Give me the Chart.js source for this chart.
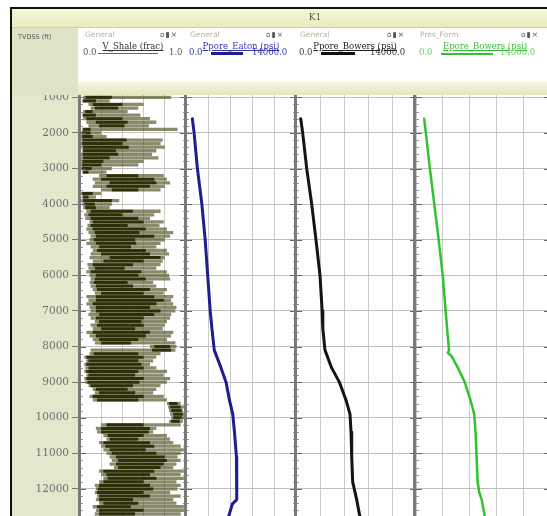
<!DOCTYPE html>
<html><head><meta charset="utf-8">
<script src="https://cdn.jsdelivr.net/npm/chart.js@4/dist/chart.umd.min.js"></script>
<style>
html,body{margin:0;padding:0;}
body{width:547px;height:516px;overflow:hidden;position:relative;background:#fff;font-family:'DejaVu Serif',serif;}
.a{position:absolute;}
canvas{position:absolute;top:92px;z-index:2;}
.sep{position:absolute;top:27px;height:489px;width:3px;background:#7a7a7a;z-index:6;}
.gen{position:absolute;top:30px;font:7.5px 'DejaVu Sans',sans-serif;color:#b9b0a0;z-index:8;white-space:nowrap;}
.ico{position:absolute;top:30px;font:7.5px 'DejaVu Sans',sans-serif;color:#555;z-index:8;white-space:nowrap;letter-spacing:1px;}
.ttl{position:absolute;top:41px;font:8.5px 'DejaVu Serif',serif;text-decoration:underline;z-index:8;white-space:nowrap;text-align:center;}
.sc{position:absolute;top:47px;font:8.5px 'DejaVu Serif',serif;z-index:8;white-space:nowrap;}
.smp{position:absolute;z-index:8;}
</style></head>
<body>
<!-- frame and header -->
<div class="a" style="left:10px;top:7px;width:537px;height:2px;background:#111;z-index:9"></div>
<div class="a" style="left:10px;top:7px;width:2px;height:509px;background:#111;z-index:9"></div>
<div class="a" style="left:12px;top:9px;width:535px;height:18px;background:linear-gradient(#f6f6d6,#e9ebc0);z-index:7;border-bottom:1px solid #cfd0a8"></div>
<div class="a" style="left:300px;top:12px;width:30px;text-align:center;font:9px 'DejaVu Serif',serif;color:#555;z-index:8">K1</div>
<div class="a" style="left:12px;top:28px;width:535px;height:67px;background:#fff;z-index:7"></div>
<div class="a" style="left:12px;top:82px;width:535px;height:13px;background:linear-gradient(#f6f6e2,#e3e7bf);z-index:7"></div>
<div class="a" style="left:12px;top:28px;width:66px;height:67px;background:#dfe4c6;z-index:7"></div>
<div class="a" style="left:18px;top:33px;font:6.5px 'DejaVu Sans',sans-serif;color:#555;z-index:8;white-space:nowrap">TVDSS (ft)</div>
<div class="a" style="left:12px;top:95px;width:66px;height:421px;background:#e3e8cc;z-index:1"></div>

<!-- track separators -->
<div class="sep" style="left:78px"></div>
<div class="sep" style="left:184px"></div>
<div class="sep" style="left:294px"></div>
<div class="sep" style="left:413px"></div>

<!-- track 1 header -->
<div class="gen" style="left:85px">General</div>
<div class="ico" style="left:160px">o▮×</div>
<div class="ttl" style="left:82px;width:102px;color:#333">V_Shale (frac)</div>
<div class="sc" style="left:83px;color:#555">0.0</div>
<div class="smp" style="left:98px;top:53px;width:60px;height:1px;background:#666"></div>
<div class="sc" style="left:169px;color:#555">1.0</div>

<!-- track 2 header -->
<div class="gen" style="left:190px">General</div>
<div class="ico" style="left:266px">o▮×</div>
<div class="ttl" style="left:188px;width:106px;color:#3333aa">Ppore_Eaton (psi)</div>
<div class="sc" style="left:189px;color:#3333aa">0.0</div>
<div class="smp" style="left:211px;top:52px;width:32px;height:3px;background:#1e1e8c"></div>
<div class="sc" style="left:252px;color:#3333aa">14000.0</div>

<!-- track 3 header -->
<div class="gen" style="left:300px">General</div>
<div class="ico" style="left:387px">o▮×</div>
<div class="ttl" style="left:298px;width:114px;color:#222">Ppore_Bowers (psi)</div>
<div class="sc" style="left:299px;color:#333">0.0</div>
<div class="smp" style="left:321px;top:52px;width:34px;height:3px;background:#111"></div>
<div class="sc" style="left:370px;color:#333">14000.0</div>

<!-- track 4 header -->
<div class="gen" style="left:420px">Pres_Form</div>
<div class="ico" style="left:521px">o▮×</div>
<div class="ttl" style="left:428px;width:114px;color:#33bb33">Epore_Bowers (psi)</div>
<div class="sc" style="left:419px;color:#66cc66">0.0</div>
<div class="smp" style="left:441px;top:53px;width:52px;height:2px;background:#2fc42f"></div>
<div class="sc" style="left:500px;color:#66cc66">14000.0</div>

<canvas id="c1" width="173" height="424" style="left:13px"></canvas>
<canvas id="c2" width="110" height="424" style="left:186px"></canvas>
<canvas id="c3" width="120" height="424" style="left:296px"></canvas>
<canvas id="c4" width="134" height="424" style="left:416px"></canvas>

<script>
// ---------- data ----------
const depthTicks = [1000,2000,3000,4000,5000,6000,7000,8000,9000,10000,11000,12000];

// V_Shale samples (every 100 ft from 1000 to 12800 ft)
const shaleDepth = [];
for (let d = 1000; d <= 12800; d += 100) shaleDepth.push(d);
// outer (light) extent of the shale trace
const shaleLo = [0.03,0.02,0.08,0.10,0.03,0.02,0.03,0.06,0.08,0.02,
 0.01,0.01,0.01,0.01,0.01,0.02,0.01,0.01,0.01,0.01,
 0.01,0.02,0.18,0.12,0.14,0.12,0.20,0.01,0.02,0.01,
 0.02,0.03,0.06,0.04,0.05,0.09,0.07,0.06,0.08,0.10,
 0.09,0.06,0.10,0.12,0.10,0.09,0.12,0.07,0.08,0.06,
 0.09,0.10,0.09,0.10,0.12,0.14,0.06,0.08,0.06,0.09,
 0.10,0.08,0.10,0.14,0.10,0.12,0.06,0.09,0.12,0.14,
 0.66,0.10,0.09,0.04,0.06,0.04,0.05,0.04,0.06,0.04,
 0.05,0.08,0.12,0.14,0.09,0.12,0.82,0.83,0.84,0.85,
 0.86,0.84,0.20,0.15,0.16,0.22,0.25,0.18,0.20,0.22,
 0.25,0.28,0.30,0.28,0.32,0.18,0.20,0.22,0.18,0.14,
 0.15,0.14,0.16,0.15,0.18,0.12,0.15,0.14,0.12];
const shaleHi = [0.86,0.28,0.60,0.55,0.45,0.57,0.66,0.72,0.65,0.92,
 0.20,0.25,0.78,0.76,0.80,0.72,0.68,0.74,0.60,0.55,
 0.30,0.25,0.79,0.82,0.85,0.80,0.76,0.20,0.15,0.37,
 0.30,0.28,0.76,0.70,0.66,0.79,0.75,0.82,0.88,0.85,
 0.80,0.76,0.72,0.82,0.84,0.80,0.78,0.76,0.72,0.82,
 0.84,0.85,0.69,0.72,0.82,0.79,0.88,0.86,0.88,0.91,
 0.90,0.86,0.85,0.82,0.80,0.78,0.88,0.86,0.82,0.90,
 0.91,0.90,0.76,0.72,0.69,0.66,0.72,0.82,0.79,0.85,
 0.82,0.76,0.72,0.69,0.79,0.82,0.95,0.98,0.97,0.99,
 0.98,0.97,0.95,0.72,0.69,0.82,0.85,0.88,0.95,0.98,
 0.95,0.92,0.95,0.91,0.88,0.98,0.95,0.98,0.91,0.95,
 0.92,0.85,0.95,0.88,0.91,0.98,0.99,0.95,0.96];
// dense (dark) core of the shale trace
const coreLo = [0.05,0.03,0.12,0.14,0.05,0.03,0.06,0.15,0.18,0.03,
 0.02,0.02,0.02,0.02,0.03,0.03,0.02,0.03,0.02,0.02,
 0.02,0.03,0.25,0.20,0.28,0.25,0.30,0.02,0.03,0.03,
 0.04,0.05,0.10,0.08,0.10,0.12,0.10,0.12,0.14,0.15,
 0.13,0.15,0.18,0.16,0.20,0.28,0.22,0.12,0.14,0.10,
 0.15,0.14,0.13,0.15,0.16,0.20,0.15,0.15,0.12,0.15,
 0.15,0.18,0.15,0.18,0.16,0.20,0.12,0.15,0.18,0.20,
 0.70,0.68,0.13,0.06,0.08,0.06,0.08,0.06,0.08,0.06,
 0.07,0.10,0.15,0.18,0.12,0.16,0.84,0.85,0.86,0.88,
 0.88,0.86,0.25,0.20,0.20,0.26,0.28,0.22,0.24,0.28,
 0.30,0.34,0.36,0.34,0.36,0.22,0.25,0.26,0.22,0.18,
 0.17,0.16,0.18,0.18,0.22,0.16,0.18,0.18,0.15];
const coreHi = [0.30,0.15,0.40,0.36,0.12,0.15,0.40,0.45,0.42,0.10,
 0.10,0.12,0.44,0.40,0.46,0.34,0.36,0.28,0.22,0.20,
 0.11,0.08,0.55,0.70,0.72,0.66,0.55,0.12,0.08,0.30,
 0.14,0.15,0.50,0.40,0.55,0.60,0.45,0.62,0.56,0.70,
 0.52,0.53,0.48,0.62,0.66,0.76,0.60,0.50,0.42,0.58,
 0.55,0.62,0.45,0.50,0.66,0.60,0.70,0.79,0.72,0.66,
 0.76,0.70,0.60,0.58,0.60,0.52,0.66,0.62,0.55,0.48,
 0.85,0.86,0.55,0.60,0.55,0.58,0.60,0.55,0.52,0.60,
 0.56,0.50,0.45,0.52,0.60,0.55,0.92,0.95,0.96,0.97,
 0.96,0.94,0.60,0.66,0.65,0.60,0.55,0.66,0.70,0.62,
 0.72,0.80,0.82,0.79,0.76,0.70,0.66,0.72,0.60,0.66,
 0.69,0.60,0.66,0.50,0.55,0.48,0.60,0.52,0.50];

// Pore pressure curves (psi vs TVDSS ft)
const eatonDepth = [1600,2000,3000,4000,5000,6000,7000,7500,8100,8600,9000,9500,9900,10400,11100,12300,12420,12800];
const eatonPsi   = [810,1030,1450,2020,2440,2760,3080,3300,3600,4460,5100,5520,5950,6170,6420,6460,5910,5390];
const bowersDepth = [1600,2000,3000,4000,5000,6000,7000,7500,8100,8600,9000,9500,9900,10400,11100,11800,12300,12800];
const bowersPsi   = [550,780,1250,1830,2330,2800,3050,3130,3380,4160,5060,5830,6300,6420,6500,6610,7080,7470];
const fporeDepth = [1600,2000,3000,4000,5000,6000,7000,7500,8100,8180,8260,8600,9000,9500,9900,10400,11100,11800,12100,12300,12800];
const fporePsi   = [850,1030,1450,1910,2370,2790,3100,3250,3450,3330,3700,4380,5090,5690,6080,6220,6330,6440,6610,6860,7210];

// ---------- drawing ----------
const Y_MIN = 850, Y_MAX = 12760;
const GRID = '#c9c9c9';

const edgeTicks = {
  id: 'edgeTicks',
  afterDatasetsDraw(chart, args, opts) {
    const {ctx, chartArea: a, scales: {y}} = chart;
    ctx.save();
    ctx.lineWidth = 1;
    for (let d = 1000; d <= 12800; d += 200) {
      const py = Math.round(y.getPixelForValue(d)) + 0.5;
      const major = d % 1000 === 0;
      ctx.strokeStyle = major ? '#666' : '#999';
      const len = major ? 6 : 3;
      ctx.beginPath();
      if (opts.left) { ctx.moveTo(a.left, py); ctx.lineTo(a.left + len, py); }
      if (opts.right) { ctx.moveTo(a.right, py); ctx.lineTo(a.right - len, py); }
      ctx.stroke();
    }
    ctx.restore();
  }
};

function yScale(showLabels) {
  return {
    type: 'linear', reverse: true, min: Y_MIN, max: Y_MAX, offset: false,
    afterBuildTicks: s => { s.ticks = depthTicks.map(v => ({value: v})); },
    afterFit: s => { s.width = showLabels ? 67 : 0; s.paddingTop = 0; s.paddingBottom = 0; },
    ticks: showLabels ? {
      display: true, padding: 3, color: '#707070',
      font: {family: "'DejaVu Serif'", size: 10.5},
      callback: v => String(v)
    } : {display: false},
    grid: {color: '#bdbdbd', drawTicks: showLabels, tickLength: 8, tickColor: '#777', offset: false},
    border: {display: false}
  };
}
function xScale(max, step) {
  return {
    type: 'linear', min: 0, max: max, position: 'top',
    ticks: {display: false, stepSize: step},
    grid: {color: GRID, drawTicks: false},
    border: {display: false}
  };
}
const baseOpts = {
  responsive: false, maintainAspectRatio: false, animation: false,
  layout: {padding: 0},
  plugins: {legend: {display: false}, tooltip: {enabled: false}}
};

// Track 1: V_Shale
new Chart(document.getElementById('c1'), {
  type: 'bar',
  data: {datasets: [
    {data: shaleDepth.map((d, i) => ({y: d, x: [shaleLo[i], shaleHi[i]]})),
     backgroundColor: 'rgba(82,82,38,0.68)', barPercentage: 0.92, categoryPercentage: 1, grouped: false, order: 2},
    {data: shaleDepth.map((d, i) => ({y: d, x: [coreLo[i], coreHi[i]]})),
     backgroundColor: 'rgba(44,44,6,0.97)', barPercentage: 0.85, categoryPercentage: 1, grouped: false, order: 1}
  ]},
  options: Object.assign({}, baseOpts, {
    indexAxis: 'y',
    scales: {x: xScale(1, 0.2), y: yScale(true)},
    plugins: Object.assign({}, baseOpts.plugins, {edgeTicks: {left: true, right: true}})
  }),
  plugins: [edgeTicks]
});

function pressureTrack(id, depth, psi, color, width) {
  new Chart(document.getElementById(id), {
    type: 'scatter',
    data: {datasets: [{
      data: depth.map((d, i) => ({x: psi[i], y: d})),
      showLine: true, borderColor: color, borderWidth: width,
      pointRadius: 0, tension: 0, borderJoinStyle: 'round', borderCapStyle: 'round'
    }]},
    options: Object.assign({}, baseOpts, {
      scales: {x: xScale(14000, 2800), y: yScale(false)},
      plugins: Object.assign({}, baseOpts.plugins, {edgeTicks: {left: true, right: true}})
    }),
    plugins: [edgeTicks]
  });
}
pressureTrack('c2', eatonDepth, eatonPsi, '#1e1e8c', 3);
pressureTrack('c3', bowersDepth, bowersPsi, '#141414', 3);
pressureTrack('c4', fporeDepth, fporePsi, '#2fc42f', 2.5);
</script>
</body></html>
